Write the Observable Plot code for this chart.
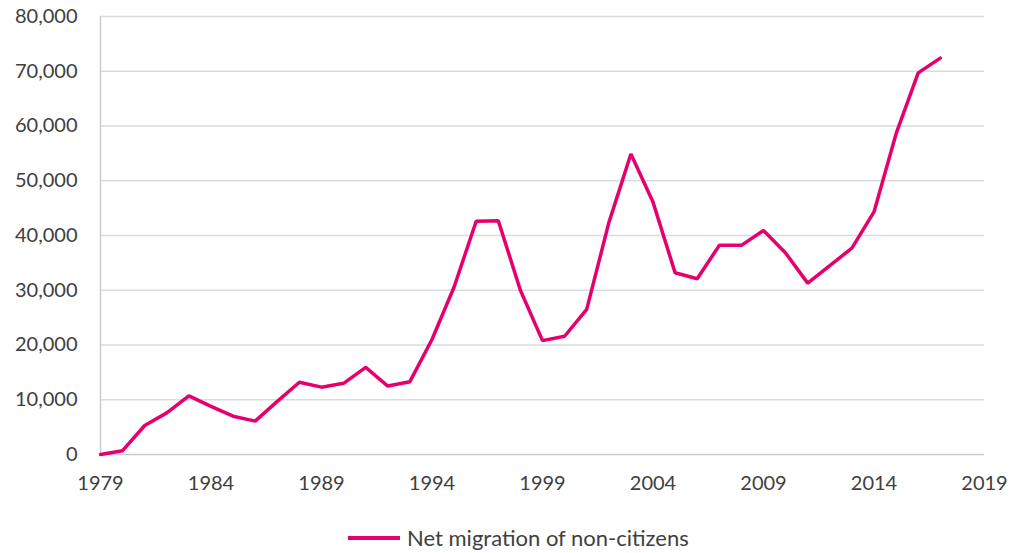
<!DOCTYPE html>
<html>
<head>
<meta charset="utf-8">
<script src="https://cdn.jsdelivr.net/npm/d3@7"></script>
<script src="https://cdn.jsdelivr.net/npm/@observablehq/plot@0.6"></script>
<style>
  html, body { margin: 0; padding: 0; background: #fff; }
  #chart { width: 1014px; }
  .legend { display: flex; align-items: center; margin-left: 348px; margin-top: 25px; line-height: 26px;
            font-family: Lato, "Open Sans", sans-serif; font-size: 22px; color: #404040; }
  .legend .sw { width: 52px; height: 3.5px; background: #e6006e; margin-right: 7px; }
</style>
</head>
<body>
<div id="chart"></div>
<script>
const years = d3.range(1979, 2018);
const netMigration = [
  0, 700, 5300, 7600, 10700, 8800, 7000, 6100, 9700, 13200,
  12300, 13000, 15900, 12500, 13300, 21000, 30600, 42600, 42700, 30000,
  20800, 21600, 26500, 42300, 54900, 46100, 33200, 32100, 38200, 38200,
  40900, 36800, 31300, 34500, 37700, 44300, 58600, 69700, 72400
];
const yTicks = [0, 10000, 20000, 30000, 40000, 50000, 60000, 70000, 80000];
const xTicks = [1979, 1984, 1989, 1994, 1999, 2004, 2009, 2014, 2019];
const seriesName = "Net migration of non-citizens";

const data = years.map((y, i) => ({year: y, value: netMigration[i]}));

const chart = Plot.plot({
  width: 1014,
  height: 500,
  marginLeft: 100,
  marginRight: 30,
  marginTop: 16,
  marginBottom: 46,
  style: {fontFamily: "Lato, 'Open Sans', sans-serif", fontSize: "20px", color: "#404040", background: "#fff"},
  x: {domain: [1979, 2019], ticks: xTicks, tickFormat: d => String(d), tickSize: 0, tickPadding: 21, label: null},
  y: {domain: [0, 80000], ticks: yTicks, tickFormat: d3.format(","), tickSize: 0, tickPadding: 23, label: null},
  marks: [
    Plot.ruleY(yTicks.filter(d => d > 0), {stroke: "#d9dce1", strokeWidth: 1.5}),
    Plot.ruleX([1979], {stroke: "#c8ccd4", strokeWidth: 1.5}),
    Plot.ruleY([0], {stroke: "#c8ccd4", strokeWidth: 1.5}),
    Plot.lineY(data, {x: "year", y: "value", stroke: "#e6006e", strokeWidth: 3.5, strokeLinejoin: "miter"})
  ]
});
document.getElementById("chart").appendChild(chart);

const legend = document.createElement("div");
legend.className = "legend";
legend.innerHTML = `<div class="sw"></div><span>${seriesName}</span>`;
document.getElementById("chart").appendChild(legend);
</script>
</body>
</html>
